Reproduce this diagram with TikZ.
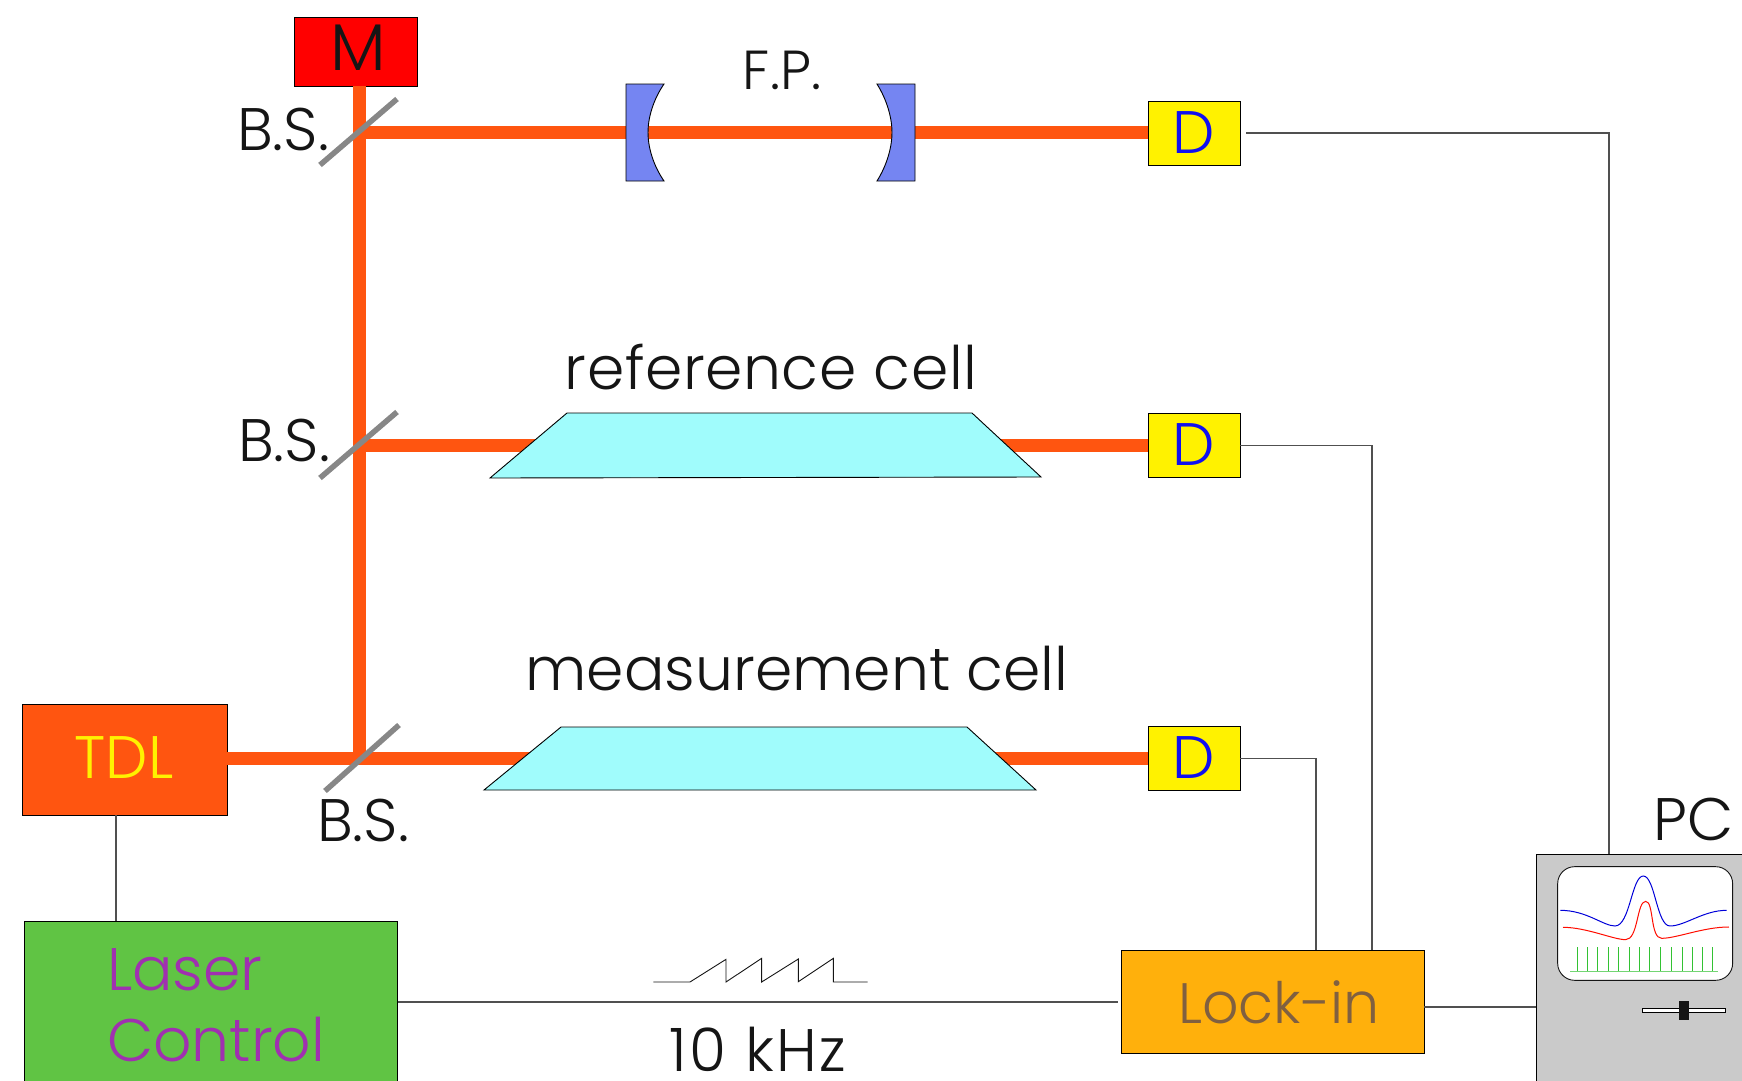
\documentclass[tikz,border=0pt]{standalone}
\usepackage{fontspec}
\setmainfont{Poppins}[UprightFont=* Light]
\definecolor{beam}{HTML}{FF5510}
\definecolor{lens}{HTML}{7585F2}
\definecolor{cellc}{HTML}{A0FCFC}
\definecolor{lasg}{HTML}{60C444}
\definecolor{purp}{HTML}{A030B0}
\definecolor{lockc}{HTML}{FFB00C}
\definecolor{lockt}{HTML}{806040}
\definecolor{pcg}{HTML}{CACACA}
\definecolor{ink}{HTML}{151515}
\definecolor{wirec}{HTML}{505050}
\definecolor{dblue}{HTML}{1010F0}
\tikzset{
  label text/.style={inner sep=0pt,outer sep=0pt,text=ink,font=\fontsize{60}{66}\selectfont},
  box/.style={draw=black,line width=0.9pt,inner sep=0pt,outer sep=0pt},
  beamline/.style={draw=beam,line width=13pt},
  bsline/.style={draw=black!47,line width=5.5pt},
  wire/.style={draw=wirec,line width=1.1pt},
  optic/.style={draw=black,line width=0.9pt},
  det/.style={box,fill=yellow,minimum width=92pt,minimum height=64pt},
}
\begin{document}
\begin{tikzpicture}[x=1pt,y=-1pt]
\useasboundingbox (0,0) rectangle (1742,1081);
\clip (0,0) rectangle (1742,1081);
% named anchors
\coordinate (bs1) at (359.5,132.5);
\coordinate (bs2) at (359.5,445);
\coordinate (bs3) at (359.5,758);
\coordinate (bs1a) at (320,165); \coordinate (bs1b) at (397,99);
\coordinate (bs2a) at (320,478); \coordinate (bs2b) at (397,412);
\coordinate (bs3a) at (325,791); \coordinate (bs3b) at (399,725);
% boxes
\node[box,fill=red,minimum width=123pt,minimum height=69pt] (m) at (355.5,51.5) {};
\node[det] (d1) at (1194,133) {};
\node[det] (d2) at (1194,445.5) {};
\node[det] (d3) at (1194,758.5) {};
\node[box,fill=beam,minimum width=205pt,minimum height=111pt] (tdl) at (124.5,759.5) {};
\node[box,fill=lasg,minimum width=373pt,minimum height=200pt] (lc) at (211,1021) {};
\node[box,fill=lockc,minimum width=303pt,minimum height=103pt] (lock) at (1272.5,1001.5) {};
\node[box,fill=pcg,minimum width=300pt,minimum height=300pt] (pc) at (1686,1004) {};
% beams
\draw[beamline] (m.south -| bs1) -- (tdl.east -| bs3);
\draw[beamline] (bs1) -- (d1.west |- bs1);
\draw[beamline] (bs2) -- (d2.west |- bs2);
\draw[beamline] (tdl.east |- bs3) -- (d3.west |- bs3);
% beam splitters
\draw[bsline] (bs1a) -- (bs1b);
\draw[bsline] (bs2a) -- (bs2b);
\draw[bsline] (bs3a) -- (bs3b);
% mirrors
\draw[optic,fill=lens] (626,84) -- (664,84) .. controls (653,100) and (648,118) .. (648,132.5) .. controls (648,147) and (653,165) .. (664,181) -- (626,181) -- cycle;
\draw[optic,fill=lens] (915,84) -- (877,84) .. controls (887,100) and (892,118) .. (892,132.5) .. controls (892,147) and (887,165) .. (877,181) -- (915,181) -- cycle;
% cells
\draw[optic,fill=cellc] (567,413) -- (972,413) -- (1041,477) -- (490,478) -- cycle;
\draw[optic,fill=cellc] (561,727) -- (967,727) -- (1036,790) -- (484,790) -- cycle;
% wires
\coordinate (d1out) at (1246,133);
\coordinate (pcin) at (1609,854);
\coordinate (lockin2) at (1372,950);
\coordinate (lockin3) at (1316,950);
\coordinate (lcin) at (116,921);
\coordinate (lockw) at (1118,1002);
\draw[wire] (d1out) -| (pcin);
\draw[wire] (d2.east) -| (lockin2);
\draw[wire] (d3.east) -| (lockin3);
\draw[wire] (tdl.south -| lcin) -- (lcin);
\draw[wire] (lc.east |- lockw) -- (lockw);
\draw[wire] (lock.east |- 0,1007) -- (pc.west |- 0,1007);
% saw
\begin{scope}[shift={(620,930)},x=0.3333pt,y=-0.3333pt]
\draw[line width=0.9pt,draw=ink] (100,156) -- (210,156) -- (318,88) -- (318,156) -- (425,85) -- (425,156) -- (535,87) -- (535,155) -- (640,85) -- (640,156) -- (743,156);
\end{scope}
% PC screen
\begin{scope}[shift={(1480,780)},x=0.3333pt,y=-0.3333pt]
\draw[draw=ink,fill=white,line width=0.9pt,rounded corners=17pt] (233,260) rectangle (758,601);
\draw[draw=blue!85!black,line width=1pt] (241,391) .. controls (320,391) and (370,438) .. (405,438) .. controls (450,438) and (455,288) .. (490,288) .. controls (525,288) and (530,438) .. (570,438) .. controls (615,438) and (670,391) .. (740,391);
\draw[draw=red!90!orange,line width=1pt] (249,442) .. controls (320,442) and (400,479) .. (437,479) .. controls (475,479) and (470,364) .. (497,364) .. controls (522,364) and (510,475) .. (545,475) .. controls (590,475) and (670,441) .. (747,441);
\foreach \gx in {293,322,353,386,416,448,478,509,541,574,606,636,667,697}
  \draw[draw=green!70!black!80,line width=0.9pt] (\gx,502) -- (\gx,575);
\draw[draw=green!70!black!55,line width=1.3pt] (270,575) -- (713,575);
\draw[draw=black,fill=white,line width=0.9pt] (487,685) rectangle (737,698);
\fill[ink] (597,664) rectangle (628,720);
\end{scope}
% texts
\node[label text,font=\fontsize{66}{70}\selectfont] (tm) at (358,48) {M};
\node[label text,font=\fontsize{55}{60}\selectfont] (tfp) at (782,70) {F.P.};
\node[label text] (tb1) at (283,129) {B.S.};
\node[label text] (tb2) at (284,440) {B.S.};
\node[label text] (tb3) at (363,820) {B.S.};
\node[label text,font=\fontsize{60}{66}\selectfont\addfontfeature{LetterSpace=1}] (tref) at (771,367) {reference cell};
\node[label text] (tmeas) at (797,669) {measurement cell};
\node[label text,text=yellow] (ttdl) at (124,758) {TDL};
\node[label text,text=dblue] (td1) at (1194,133) {D};
\node[label text,text=dblue] (td2) at (1194,445) {D};
\node[label text,text=dblue] (td3) at (1194,758) {D};
\node[label text,text=purp,anchor=west] (tl1) at (107,970) {Laser};
\node[label text,text=purp,anchor=west] (tl2) at (107,1040) {Control};
\node[label text,font=\fontsize{60}{66}\selectfont\addfontfeature{LetterSpace=4}] (tk) at (758,1049) {10 kHz};
\node[label text,text=lockt,font=\fontsize{57}{62}\selectfont] (tlock) at (1279,1002) {Lock-in};
\node[label text] (tpc) at (1694,819) {PC};
\end{tikzpicture}
\end{document}
